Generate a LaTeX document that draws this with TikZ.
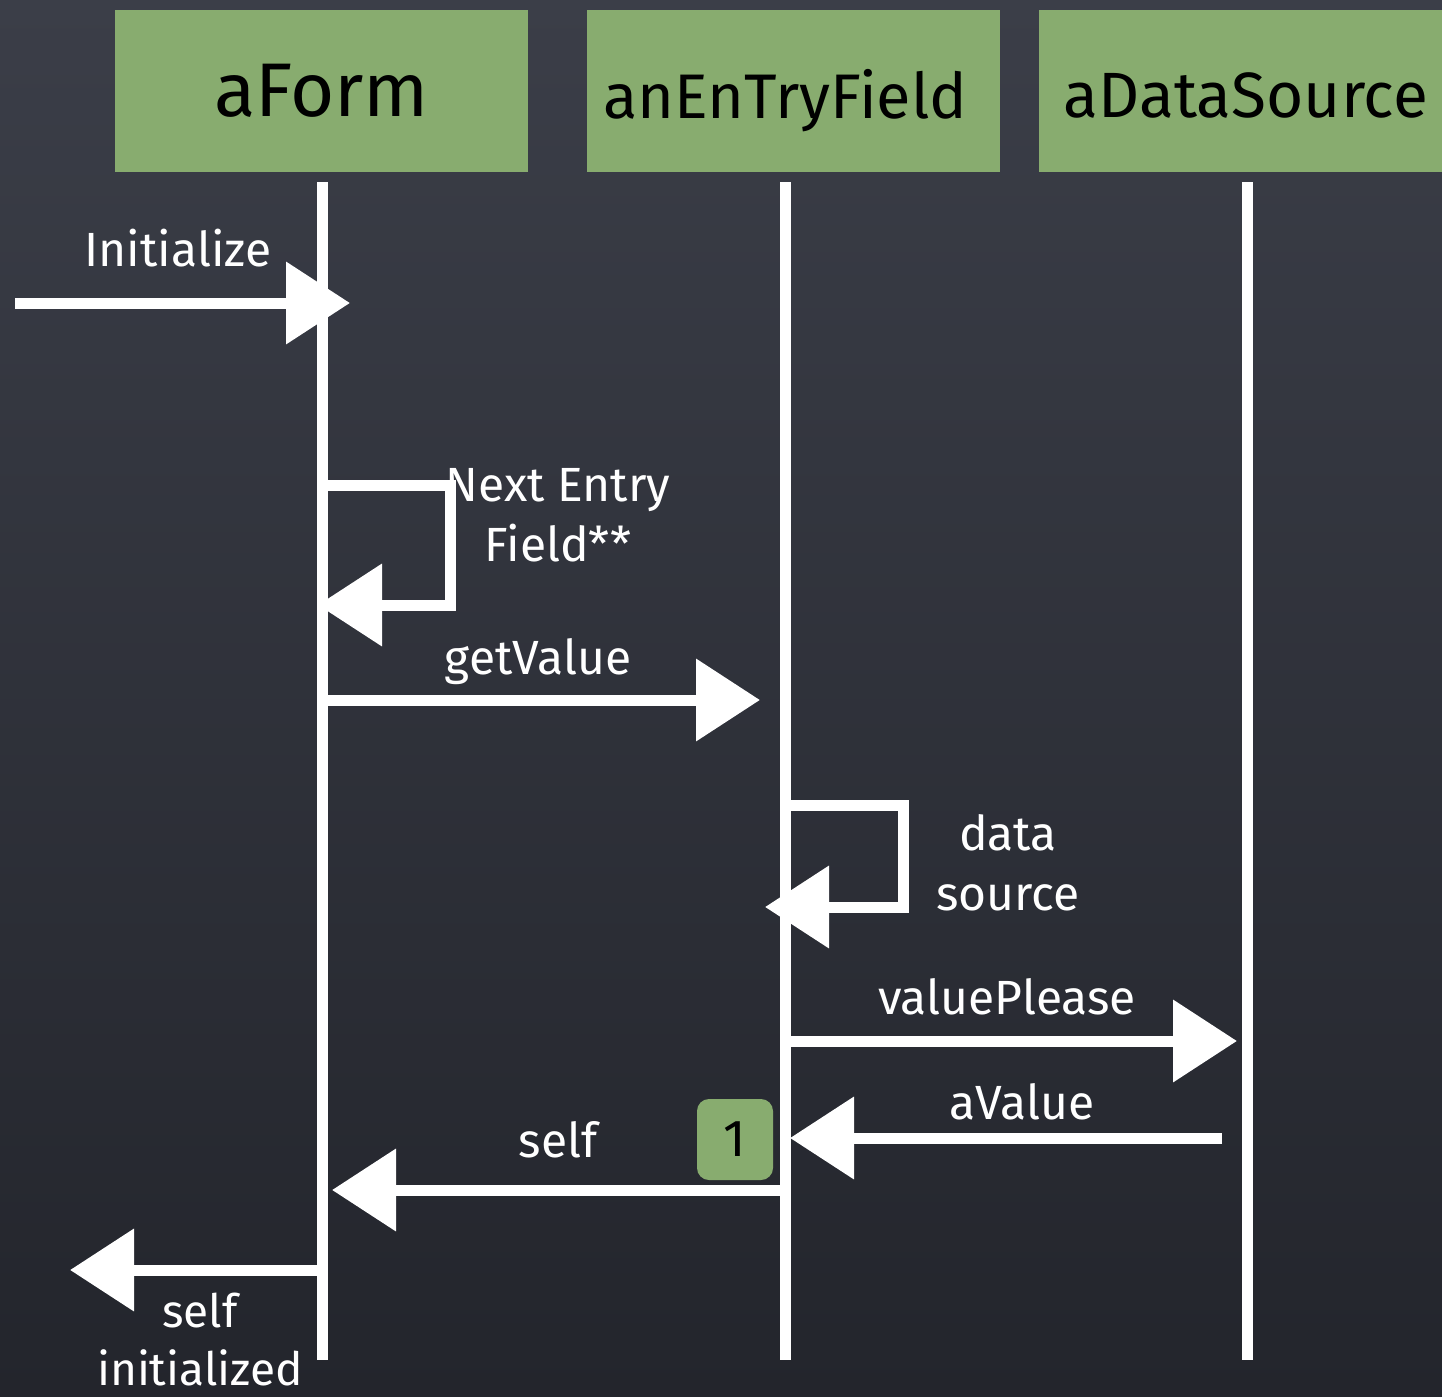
\documentclass[tikz,border=0pt]{standalone}
\usepackage{fontspec}
\setmainfont{Fira Sans}
\usetikzlibrary{arrows.meta}
\definecolor{boardtop}{HTML}{3B3E48}
\definecolor{boardbot}{HTML}{23252C}
\definecolor{paper}{HTML}{88AC6F}

\begin{document}
\begin{tikzpicture}[x=0.5pt,y=-0.5pt,
  chalk/.style={draw=white, line width=5.5pt, line join=miter},
  msg/.style={chalk, -{Triangle[length=32pt,width=40pt]}},
  lifehead/.style={fill=paper, minimum width=206.5pt, minimum height=81pt, inner sep=0pt, text=black},
  lbl/.style={text=white, font=\fontsize{24}{30}\selectfont, inner sep=0pt, align=center},
  badge/.style={fill=paper, rounded corners=6pt, minimum width=38pt, minimum height=40.5pt, inner sep=0pt, text=black, font=\fontsize{26}{30}\selectfont}
]
% chalkboard
\fill[top color=boardtop, bottom color=boardbot] (0,0) rectangle (1442,1397);
\useasboundingbox (0,0) rectangle (1442,1397);

% object heads
\node[lifehead] (aform) at (321.5,91) {};
\node[lifehead] (field) at (793.5,91) {};
\node[lifehead] (source) at (1245,91) {};
\node[font=\fontsize{38}{40}\selectfont] (taform) at (321.5,91) {aForm};
\node[font=\fontsize{31.5}{36}\selectfont] (tfield) at (785,101) {anEnTryField};
\node[font=\fontsize{32}{36}\selectfont] (tsource) at (1246,95) {aDataSource};

% lifelines
\coordinate (L1t) at (322,182);  \coordinate (L1b) at (322,1360);
\coordinate (L2t) at (785,182);  \coordinate (L2b) at (785,1360);
\coordinate (L3t) at (1247,182); \coordinate (L3b) at (1247,1360);
\draw[chalk] (L1t) -- (L1b);
\draw[chalk] (L2t) -- (L2b);
\draw[chalk] (L3t) -- (L3b);

% Initialize
\coordinate (in0) at (15,303); \coordinate (in1) at (350,303);
\draw[msg] (in0) -- (in1);
\node[lbl] (linit) at (178,248) {Initialize};

% Next Entry Field (self call)
\coordinate (n0) at (322,485); \coordinate (n1) at (450,485);
\coordinate (n2) at (450,605); \coordinate (n3) at (318,605);
\draw[msg] (n0) -- (n1) -- (n2) -- (n3);
\node[lbl] (lnext) at (558,515) {Next Entry\\Field**};

% getValue
\coordinate (g0) at (322,700); \coordinate (g1) at (760,700);
\draw[msg] (g0) -- (g1);
\node[lbl] (lget) at (538,662) {getValue};

% data source (self call)
\coordinate (d0) at (785,805); \coordinate (d1) at (903,805);
\coordinate (d2) at (903,907); \coordinate (d3) at (765,907);
\draw[msg] (d0) -- (d1) -- (d2) -- (d3);
\node[lbl] (ldata) at (1008,863) {data\\source};

% valuePlease
\coordinate (v0) at (790,1041); \coordinate (v1) at (1237,1041);
\draw[msg] (v0) -- (v1);
\node[lbl] (lplease) at (1007,997) {valuePlease};

% aValue
\coordinate (a0) at (1222,1138); \coordinate (a1) at (790,1138);
\draw[msg] (a0) -- (a1);
\node[lbl] (laval) at (1022,1102) {aValue};

% self back to aForm
\coordinate (s0) at (780,1190); \coordinate (s1) at (332,1190);
\draw[msg] (s0) -- (s1);
\node[lbl] (lself) at (558,1140) {self};
\node[badge] (one) at (735,1139.5) {1};

% self initialized
\coordinate (r0) at (322,1270); \coordinate (r1) at (70,1270);
\draw[msg] (r0) -- (r1);
\node[lbl, font=\fontsize{23}{29}\selectfont] (lret) at (200,1340) {self\\initialized};
\end{tikzpicture}
\end{document}
